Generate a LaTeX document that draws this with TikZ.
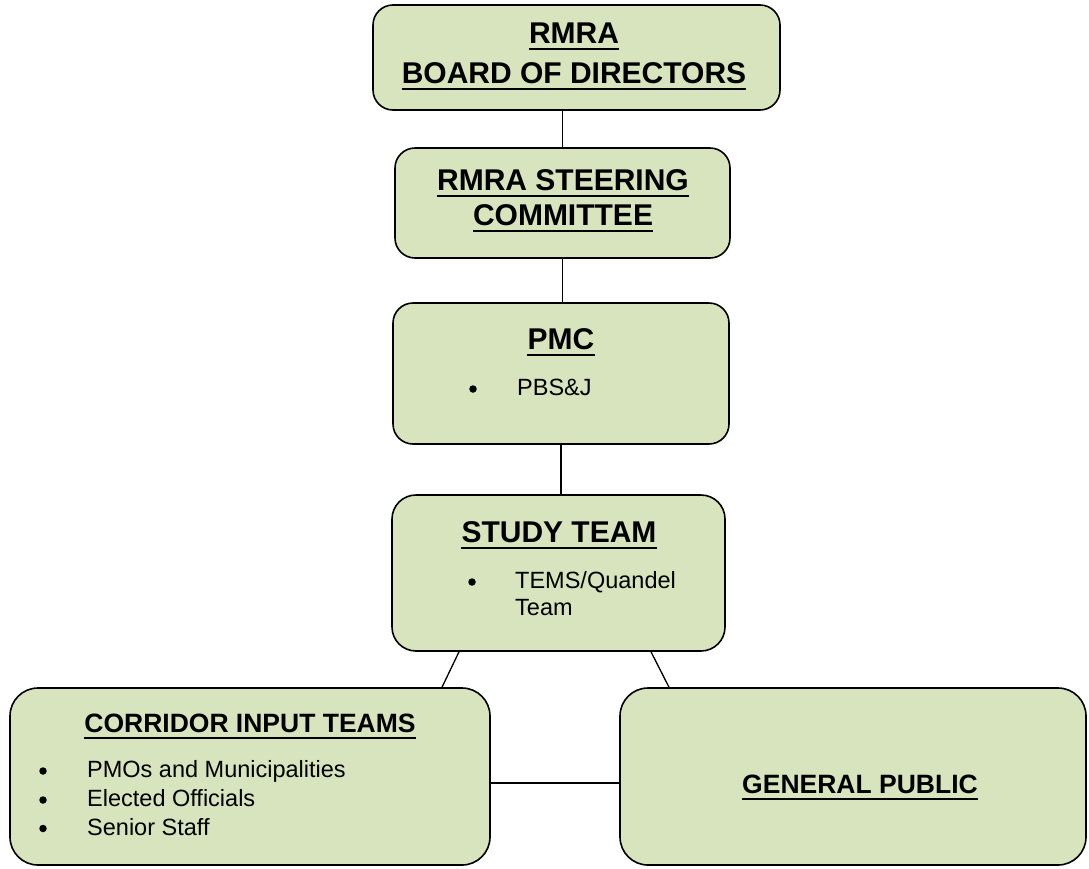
\documentclass[tikz,border=0pt]{standalone}
\usepackage{fontspec}
\setmainfont{Liberation Sans}
\definecolor{boxfill}{HTML}{D7E4BD}
% rule under a heading node, just below its baseline
\newcommand\headrule[1]{\draw[line width=2.4pt] ([yshift=-5.7pt]#1.base west) -- ([yshift=-5.7pt]#1.base east);}
\begin{document}
\begin{tikzpicture}[x=1pt,y=-1pt,
  box/.style={draw=black, line width=1.6pt, fill=boxfill, rounded corners=20pt, inner sep=0pt},
  head/.style={anchor=base, font=\bfseries\fontsize{30}{36}\selectfont, inner sep=0pt},
  subhead/.style={anchor=base, font=\bfseries\fontsize{26.5}{32}\selectfont, inner sep=0pt},
  item/.style={anchor=base west, font=\fontsize{23.5}{28}\selectfont, inner sep=0pt},
  dot/.style={circle, fill=black, inner sep=0pt, minimum size=7.5pt},
  link/.style={line width=1.3pt}]
\useasboundingbox (0,0) rectangle (1089,868);

% boxes
\node[box, minimum width=407, minimum height=105] (board) at (576.5,57.5) {};
\node[box, minimum width=335, minimum height=110] (steer) at (562.5,203) {};
\node[box, minimum width=336, minimum height=141] (pmc) at (561,373.5) {};
\node[box, rounded corners=24pt, minimum width=333, minimum height=156] (study) at (558.5,573) {};
\node[box, rounded corners=28pt, minimum width=480, minimum height=177] (corr) at (250,776.5) {};
\node[box, rounded corners=28pt, minimum width=466, minimum height=177] (pub) at (853,776.5) {};

% connectors
\draw[link] (steer.north |- board.south) -- (steer.north);
\draw[link] (steer.south) -- (steer.south |- pmc.north);
\draw[link] (pmc.south) -- (pmc.south |- study.north);
\draw[link] ([xshift=-99.5pt]study.south) -- ([xshift=192pt]corr.north);
\draw[link] ([xshift=92.5pt]study.south) -- ([xshift=-184pt]pub.north);
\draw[link] ([yshift=-6.5pt]corr.east) -- ([yshift=-6.5pt]pub.west);

% board of directors
\node[head] (boardA) at (574,43) {RMRA};
\node[head] (boardB) at (574,83) {BOARD OF DIRECTORS};
\headrule{boardA}
\headrule{boardB}

% steering committee
\node[head] (steerA) at (563,190) {RMRA STEERING};
\node[head] (steerB) at (563,225) {COMMITTEE};
\headrule{steerA}
\headrule{steerB}

% PMC
\node[head] (pmcH) at (561,349) {PMC};
\headrule{pmcH}
\node[dot] (pmcD) at (473,389) {};
\node[item] (pmcI) at (517,395) {PBS\&J};

% study team
\node[head] (studyH) at (559,542) {STUDY TEAM};
\headrule{studyH}
\node[dot] (studyD) at (472,582) {};
\node[item] (studyI) at (515,588) {TEMS/Quandel};
\node[item] (studyJ) at (515,615) {Team};

% corridor input teams
\node[subhead] (corrH) at (250,732) {CORRIDOR INPUT TEAMS};
\headrule{corrH}
\node[dot] (corrD1) at (43,771) {};
\node[item] (corrI1) at (87,777.5) {PMOs and Municipalities};
\node[dot] (corrD2) at (43,800) {};
\node[item] (corrI2) at (87,806.5) {Elected Officials};
\node[dot] (corrD3) at (43,828.5) {};
\node[item] (corrI3) at (87,835) {Senior Staff};

% general public
\node[subhead] (pubH) at (860,793) {GENERAL PUBLIC};
\headrule{pubH}
\end{tikzpicture}
\end{document}
